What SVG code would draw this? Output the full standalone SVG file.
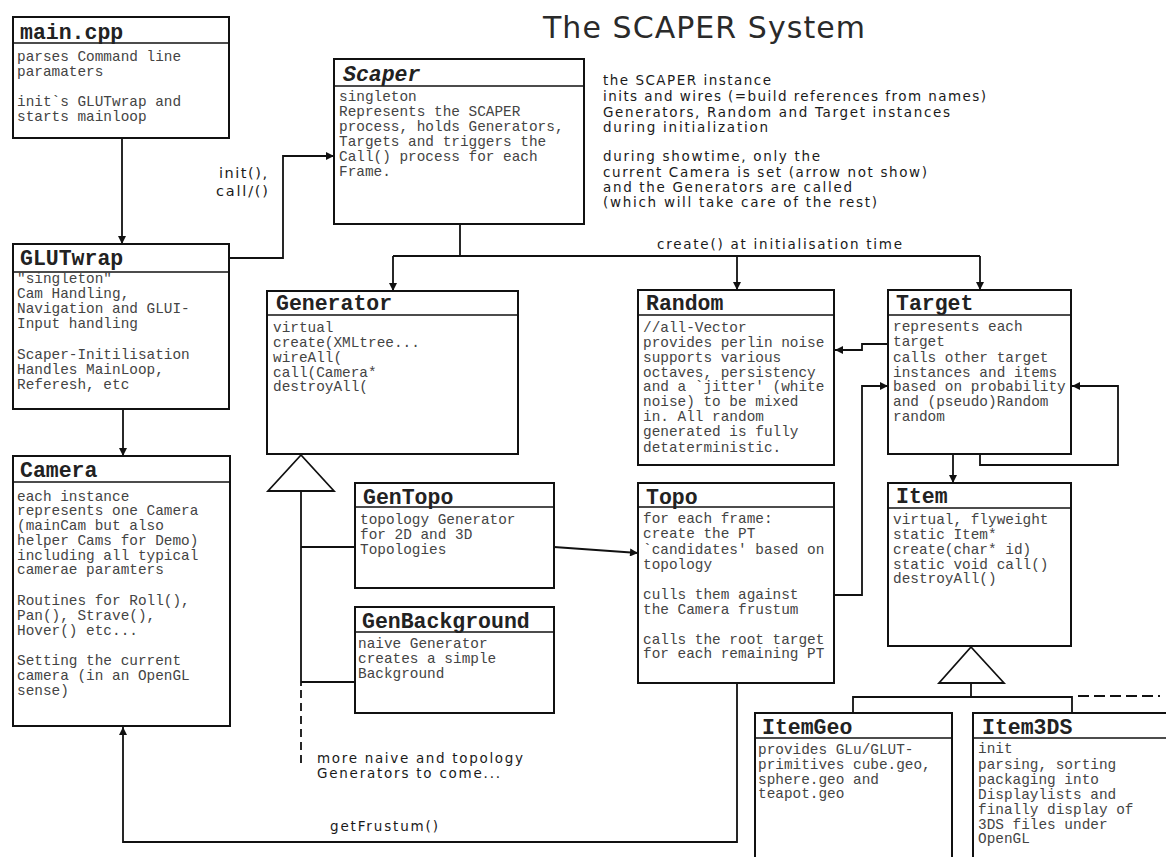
<svg xmlns="http://www.w3.org/2000/svg" width="1166" height="857" viewBox="0 0 1166 857">
<style>
.box{fill:#fff;stroke:#111;stroke-width:2}
.div{stroke:#111;stroke-width:1.6}
.h{font-family:"Liberation Mono","Courier New",monospace;font-weight:bold;font-size:21.5px;fill:#222}
.hi{font-style:italic}
.b{font-family:"Liberation Mono","Courier New",monospace;font-size:14.4px;fill:#444}
.s{font-family:"DejaVu Sans","Verdana",sans-serif;font-size:13.5px;fill:#1a1a1a}
.c{fill:none;stroke:#111;stroke-width:1.8}
.dash{fill:none;stroke:#111;stroke-width:1.8;stroke-dasharray:8 5}
.tri{fill:#fff;stroke:#111;stroke-width:1.8}
</style>
<defs>
<marker id="arr" viewBox="0 0 10 10" refX="10" refY="5" markerWidth="10" markerHeight="8" markerUnits="userSpaceOnUse" orient="auto"><path d="M0,0 L10,5 L0,10 z" fill="#111"/></marker>
</defs>
<rect width="1166" height="857" fill="#fff"/>

<text x="543" y="38" font-family="DejaVu Sans, Verdana, sans-serif" font-size="30" fill="#2a2a2a" textLength="322" lengthAdjust="spacing">The SCAPER System</text>

<g id="notes" class="s">
<text x="603" y="85" textLength="168" lengthAdjust="spacing">the SCAPER instance</text>
<text x="603" y="101" textLength="383" lengthAdjust="spacing">inits and wires (=build references from names)</text>
<text x="603" y="117" textLength="347" lengthAdjust="spacing">Generators, Random and Target instances</text>
<text x="603" y="132" textLength="165" lengthAdjust="spacing">during initialization</text>
<text x="603" y="161" textLength="217" lengthAdjust="spacing">during showtime, only the</text>
<text x="603" y="177" textLength="324" lengthAdjust="spacing">current Camera is set (arrow not show)</text>
<text x="603" y="192" textLength="249" lengthAdjust="spacing">and the Generators are called</text>
<text x="603" y="207" textLength="274" lengthAdjust="spacing">(which will take care of the rest)</text>
</g>

<g id="connectors">
<line class="c" x1="122" y1="138" x2="122" y2="244" marker-end="url(#arr)"/>
<line class="c" x1="123" y1="409" x2="123" y2="456" marker-end="url(#arr)"/>
<polyline class="c" points="229,258 283,258 283,156 334,156" marker-end="url(#arr)"/>
<polyline class="c" points="460,224 460,256"/>
<polyline class="c" points="393,256 980,256"/>
<line class="c" x1="393" y1="256" x2="393" y2="291" marker-end="url(#arr)"/>
<line class="c" x1="737" y1="256" x2="737" y2="290" marker-end="url(#arr)"/>
<line class="c" x1="980" y1="256" x2="980" y2="290" marker-end="url(#arr)"/>
<polyline class="c" points="888,344 862,344 862,350 835,350" marker-end="url(#arr)"/>
<polyline class="c" points="834,595 862,595 862,386 888,386" marker-end="url(#arr)"/>
<polyline class="c" points="980,454 980,465 1118,465 1118,386 1072,386" marker-end="url(#arr)"/>
<line class="c" x1="953" y1="454" x2="953" y2="483" marker-end="url(#arr)"/>
<line class="c" x1="554" y1="547" x2="638" y2="553" marker-end="url(#arr)"/>
<polyline class="c" points="301,491 301,686"/>
<line class="c" x1="301" y1="547" x2="355" y2="547"/>
<line class="c" x1="301" y1="682" x2="355" y2="682"/>
<line class="dash" x1="301" y1="690" x2="301" y2="767"/>
<polygon class="tri" points="301,455 268,491 334,491"/>
<line class="c" x1="971" y1="683" x2="971" y2="697"/>
<polyline class="c" points="853,713 853,697 1072,697 1072,713"/>
<line class="c" x1="1078" y1="696" x2="1160" y2="696" stroke-dasharray="11 5"/>
<polygon class="tri" points="971,647 939,683 1004,683"/>
<polyline class="c" points="737,683 737,842 123,842 123,727" marker-end="url(#arr)"/>
</g>

<g id="labels" class="s">
<text x="219" y="178" font-size="14.5" textLength="48" lengthAdjust="spacing">init(),</text>
<text x="216" y="196" font-size="14.5" textLength="52" lengthAdjust="spacing">call/()</text>
<text x="657" y="249" textLength="245" lengthAdjust="spacing">create() at initialisation time</text>
<text x="317" y="763" textLength="206" lengthAdjust="spacing">more naive and topology</text>
<text x="317" y="778" textLength="183" lengthAdjust="spacing">Generators to come...</text>
<text x="330" y="831" textLength="108" lengthAdjust="spacing">getFrustum()</text>
</g>

<g id="main-cpp">
<rect class="box" x="13" y="17" width="216" height="121"/>
<line class="div" x1="13" y1="43" x2="229" y2="43"/>
<text class="h" x="20" y="39">main.cpp</text>
<text class="b" x="17" y="61">parses Command line</text>
<text class="b" x="17" y="76">paramaters</text>
<text class="b" x="17" y="106">init`s GLUTwrap and</text>
<text class="b" x="17" y="121">starts mainloop</text>
</g>

<g id="glutwrap">
<rect class="box" x="13" y="244" width="216" height="165"/>
<line class="div" x1="13" y1="272" x2="229" y2="272"/>
<text class="h" x="20" y="265">GLUTwrap</text>
<text class="b" x="17" y="283">"singleton"</text>
<text class="b" x="17" y="298">Cam Handling,</text>
<text class="b" x="17" y="313">Navigation and GLUI-</text>
<text class="b" x="17" y="328">Input handling</text>
<text class="b" x="17" y="359">Scaper-Initilisation</text>
<text class="b" x="17" y="374">Handles MainLoop,</text>
<text class="b" x="17" y="389">Referesh, etc</text>
</g>

<g id="camera">
<rect class="box" x="13" y="456" width="217" height="270"/>
<line class="div" x1="13" y1="482" x2="230" y2="482"/>
<text class="h" x="20" y="477">Camera</text>
<text class="b" x="17" y="501">each instance</text>
<text class="b" x="17" y="515">represents one Camera</text>
<text class="b" x="17" y="530">(mainCam but also</text>
<text class="b" x="17" y="545">helper Cams for Demo)</text>
<text class="b" x="17" y="560">including all typical</text>
<text class="b" x="17" y="574">camerae paramters</text>
<text class="b" x="17" y="605">Routines for Roll(),</text>
<text class="b" x="17" y="620">Pan(), Strave(),</text>
<text class="b" x="17" y="635">Hover() etc...</text>
<text class="b" x="17" y="665">Setting the current</text>
<text class="b" x="17" y="680">camera (in an OpenGL</text>
<text class="b" x="17" y="695">sense)</text>
</g>

<g id="scaper">
<rect class="box" x="334" y="59" width="250" height="165"/>
<line class="div" x1="334" y1="86" x2="584" y2="86"/>
<text class="h hi" x="343" y="81">Scaper</text>
<text class="b" x="339" y="101">singleton</text>
<text class="b" x="339" y="116">Represents the SCAPER</text>
<text class="b" x="339" y="131">process, holds Generators,</text>
<text class="b" x="339" y="146">Targets and triggers the</text>
<text class="b" x="339" y="161">Call() process for each</text>
<text class="b" x="339" y="176">Frame.</text>
</g>

<g id="generator">
<rect class="box" x="267" y="291" width="251" height="163"/>
<line class="div" x1="267" y1="315" x2="518" y2="315"/>
<text class="h" x="276" y="310">Generator</text>
<text class="b" x="273" y="332">virtual</text>
<text class="b" x="273" y="347">create(XMLtree...</text>
<text class="b" x="273" y="362">wireAll(</text>
<text class="b" x="273" y="377">call(Camera*</text>
<text class="b" x="273" y="391">destroyAll(</text>
</g>

<g id="gentopo">
<rect class="box" x="355" y="483" width="199" height="105"/>
<line class="div" x1="355" y1="507" x2="554" y2="507"/>
<text class="h" x="363" y="504">GenTopo</text>
<text class="b" x="360" y="524">topology Generator</text>
<text class="b" x="360" y="539">for 2D and 3D</text>
<text class="b" x="360" y="554">Topologies</text>
</g>

<g id="genbackground">
<rect class="box" x="355" y="607" width="199" height="106"/>
<line class="div" x1="355" y1="632" x2="554" y2="632"/>
<text class="h" x="362" y="628">GenBackground</text>
<text class="b" x="358" y="648">naive Generator</text>
<text class="b" x="358" y="663">creates a simple</text>
<text class="b" x="358" y="678">Background</text>
</g>

<g id="random">
<rect class="box" x="638" y="290" width="196" height="175"/>
<line class="div" x1="638" y1="315" x2="834" y2="315"/>
<text class="h" x="646" y="310">Random</text>
<text class="b" x="643" y="332">//all-Vector</text>
<text class="b" x="643" y="347">provides perlin noise</text>
<text class="b" x="643" y="362">supports various</text>
<text class="b" x="643" y="377">octaves, persistency</text>
<text class="b" x="643" y="391">and a `jitter' (white</text>
<text class="b" x="643" y="406">noise) to be mixed</text>
<text class="b" x="643" y="421">in. All random</text>
<text class="b" x="643" y="436">generated is fully</text>
<text class="b" x="643" y="452">detaterministic.</text>
</g>

<g id="topo">
<rect class="box" x="638" y="483" width="196" height="200"/>
<line class="div" x1="638" y1="507" x2="834" y2="507"/>
<text class="h" x="646" y="504">Topo</text>
<text class="b" x="643" y="523">for each frame:</text>
<text class="b" x="643" y="538">create the PT</text>
<text class="b" x="643" y="554">`candidates' based on</text>
<text class="b" x="643" y="569">topology</text>
<text class="b" x="643" y="599">culls them against</text>
<text class="b" x="643" y="614">the Camera frustum</text>
<text class="b" x="643" y="644">calls the root target</text>
<text class="b" x="643" y="658">for each remaining PT</text>
</g>

<g id="target">
<rect class="box" x="888" y="290" width="183" height="164"/>
<line class="div" x1="888" y1="315" x2="1071" y2="315"/>
<text class="h" x="896" y="310">Target</text>
<text class="b" x="893" y="331">represents each</text>
<text class="b" x="893" y="346">target</text>
<text class="b" x="893" y="362">calls other target</text>
<text class="b" x="893" y="377">instances and items</text>
<text class="b" x="893" y="391">based on probability</text>
<text class="b" x="893" y="406">and (pseudo)Random</text>
<text class="b" x="893" y="421">random</text>
</g>

<g id="item">
<rect class="box" x="888" y="483" width="183" height="163"/>
<line class="div" x1="888" y1="508" x2="1071" y2="508"/>
<text class="h" x="896" y="503">Item</text>
<text class="b" x="893" y="524">virtual, flyweight</text>
<text class="b" x="893" y="539">static Item*</text>
<text class="b" x="893" y="554">create(char* id)</text>
<text class="b" x="893" y="569">static void call()</text>
<text class="b" x="893" y="583">destroyAll()</text>
</g>

<g id="itemgeo">
<rect class="box" x="755" y="713" width="197" height="160"/>
<line class="div" x1="755" y1="738" x2="952" y2="738"/>
<text class="h" x="762" y="734">ItemGeo</text>
<text class="b" x="758" y="754">provides GLu/GLUT-</text>
<text class="b" x="758" y="769">primitives cube.geo,</text>
<text class="b" x="758" y="784">sphere.geo and</text>
<text class="b" x="758" y="798">teapot.geo</text>
</g>

<g id="item3ds">
<rect class="box" x="973" y="713" width="220" height="160"/>
<line class="div" x1="973" y1="738" x2="1193" y2="738"/>
<text class="h" x="982" y="734">Item3DS</text>
<text class="b" x="978" y="753">init</text>
<text class="b" x="978" y="769">parsing, sorting</text>
<text class="b" x="978" y="784">packaging into</text>
<text class="b" x="978" y="799">Displaylists and</text>
<text class="b" x="978" y="814">finally display of</text>
<text class="b" x="978" y="829">3DS files under</text>
<text class="b" x="978" y="843">OpenGL</text>
</g>
</svg>
